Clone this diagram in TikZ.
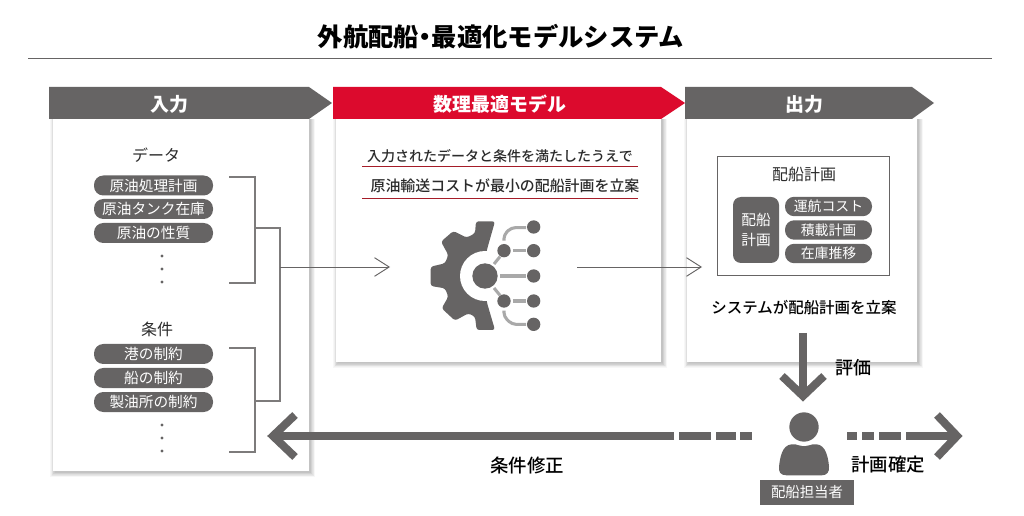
\documentclass[tikz,border=0pt]{standalone}
\usepackage{fontspec}
\setmainfont{Noto Sans CJK JP}
\newfontfamily\med{Noto Sans CJK JP Medium}
\usetikzlibrary{arrows.meta}
\definecolor{gr}{HTML}{666464}
\definecolor{lg}{HTML}{A9A9A9}
\definecolor{rd}{HTML}{DC0A2D}
\definecolor{drd}{HTML}{A51C28}
\definecolor{tx}{HTML}{2B2B2B}
\newcommand\fsz[1]{\fontsize{#1}{#1}\selectfont}
\newcommand\shadowrect[4]{%
  \foreach \i in {7,6,5,4,3,2,1,0}{%
    \fill[black,opacity=.03] (#1-\i*.6+1.5,#2) rectangle (#3+\i*.6+1.5,#4+\i*.6+1.5);}%
  \fill[white] (#1,#2) rectangle (#3,#4);}
\tikzset{
  x=.75pt,y=-.75pt,
  banner/.style={fill=#1,draw=none},
  headtxt/.style={text=white,font=\bfseries\fsz{14.2},inner sep=0pt},
  pill/.style={fill=gr,text=white,rounded corners=7pt,minimum width=89.25pt,minimum height=15pt,inner sep=0pt,font=\fsz{11}},
  spill/.style={fill=gr,text=white,rounded corners=7pt,minimum width=65.25pt,minimum height=14.6pt,inner sep=0pt,font=\fsz{10.4}},
  lbl/.style={text=tx,inner sep=0pt,font=\fsz{#1}},
  bracket/.style={draw=gr!85!white,line width=.85pt},
  thin arrow/.style={draw=gr,line width=.7pt,-{Straight Barb[length=11pt,width=14pt,line width=.7pt]}},
  heavy/.style={draw=gr,line width=6pt,miter limit=10},
  dotnode/.style={circle,fill=gr,minimum size=2.6pt,inner sep=0pt},
  netnode/.style={circle,fill=gr,inner sep=0pt,minimum size=10pt},
  netline/.style={draw=lg,line width=2.3pt,rounded corners=3pt},
}
\begin{document}
\begin{tikzpicture}
\useasboundingbox (0,0) rectangle (1024,516);
\fill[white] (0,0) rectangle (1024,516);
% title
\node[inner sep=0pt,font=\bfseries\fsz{19},text=black] (title) at (501,37) {外航配船\kern-.25em・\kern-.25em最適化モデルシステム};
\coordinate (rl) at (28,58); \coordinate (rr) at (992,58);
\draw[gr,line width=.7pt] (rl) -- (rr);
% panels
\shadowrect{53}{119}{309}{471}
\shadowrect{336}{119}{661}{362}
\shadowrect{687}{119}{917}{362}
% banners
\fill[banner=gr] (49,87) -- (309,87) -- (332,103) -- (309,119) -- (49,119) -- cycle;
\fill[banner=rd] (333,87) -- (661,87) -- (685,103) -- (661,119) -- (333,119) -- cycle;
\fill[banner=gr] (685,87) -- (912,87) -- (934,103) -- (912,119) -- (685,119) -- cycle;
\node[headtxt] (h1) at (169,104) {入力};
\node[headtxt] (h2) at (500,104) {数理最適モデル};
\node[headtxt] (h3) at (804,104) {出力};
% left panel
\node[lbl=12] (data) at (156,155) {データ};
\node[pill] (p1) at (153.5,185.5) {原油処理計画};
\node[pill] (p2) at (153.5,209) {原油タンク在庫};
\node[pill] (p3) at (153.5,233) {原油の性質};
\node[dotnode] (d1) at (162,256) {};
\node[dotnode] (d2) at (162,269) {};
\node[dotnode] (d3) at (162,282) {};
\node[lbl=12] (cond) at (157,329) {条件};
\node[pill] (q1) at (153.5,354) {港の制約};
\node[pill] (q2) at (153.5,378) {船の制約};
\node[pill] (q3) at (153.5,402) {製油所の制約};
\node[dotnode] (e1) at (162,425) {};
\node[dotnode] (e2) at (162,438) {};
\node[dotnode] (e3) at (162,451) {};
% brackets
\coordinate (b1a) at (229,177); \coordinate (b1b) at (229,283); \coordinate (b1m) at (255,228);
\coordinate (b2a) at (229,348); \coordinate (b2b) at (229,452); \coordinate (b2m) at (255,401);
\coordinate (jt) at (280,228); \coordinate (jb) at (280,401);
\draw[bracket] (b1a) -| (b1b -| b1m) -- (b1b);
\draw[bracket] (b2a) -| (b2b -| b2m) -- (b2b);
\draw[bracket] (b1m) -- (jt) -- (jb) -- (b2m);
\coordinate (a1s) at (280,267); \coordinate (a1e) at (390,267);
\draw[thin arrow] (a1s) -- (a1e);
% middle panel
\node[inner sep=0pt,text=tx,font=\med\fsz{10.5}] (m1) at (500,156) {入力されたデータと条件を満たしたうえで};
\node[inner sep=0pt,text=tx,font=\med\fsz{11.2}] (m2) at (505,186) {原油輸送コストが最小の配船計画を立案};
\coordinate (ml1) at (362,166); \coordinate (mr1) at (638,166);
\coordinate (ml2) at (362,198); \coordinate (mr2) at (638,198);
\draw[drd,line width=.65pt] (ml1) -- (mr1);
\draw[drd,line width=.65pt] (ml2) -- (mr2);
% gear
\begin{scope}[shift={(340,200)},x=.25pt,y=-.25pt]
\fill[gr,rounded corners=2pt] (465,64) -- (408,64) -- (405,100) -- (380,113) -- (340,93) -- (303,125) -- (325,165) -- (315,190) -- (272,200) -- (272,258) -- (315,265) -- (325,290) -- (305,325) -- (345,362) -- (385,340) -- (405,350) -- (410,390) -- (465,390) -- (440,305) -- (440,152) -- cycle;
\fill[white] (435,228) circle[radius=18.75pt];
\node[circle,fill=gr,inner sep=0pt,minimum size=19pt] (nc) at (435,228) {};
\node[netnode] (n1) at (492,152) {};
\node[netnode] (n2) at (492,303) {};
\node[netnode] (s1) at (581,81) {};
\node[netnode] (s2) at (581,152) {};
\node[netnode] (s3) at (581,228) {};
\node[netnode] (s4) at (581,303) {};
\node[netnode] (s5) at (581,373) {};
\draw[netline] (462,192) -- (480,170);
\draw[netline] (462,264) -- (480,286);
\draw[netline] (520,152) -- (558,152);
\draw[netline] (480,228) -- (558,228);
\draw[netline] (520,303) -- (558,303);
\draw[netline] (492,122) -- (492,104) -- (514,83) -- (558,83);
\draw[netline] (492,332) -- (492,350) -- (516,373) -- (558,373);
\end{scope}
\coordinate (a2s) at (577,267); \coordinate (a2e) at (702,267);
\draw[thin arrow] (a2s) -- (a2e);
% right panel
\node[draw=gr,line width=.65pt,minimum width=129pt,minimum height=89.25pt,inner sep=0pt] (plan) at (803,215.5) {};
\node[lbl=12] (pt) at (804,174) {配船計画};
\node[fill=gr,text=white,rounded corners=6pt,minimum width=34.5pt,minimum height=49.5pt,inner sep=0pt,font=\fsz{11},align=center] (pb) at (756,230) {配船\\[4pt]計画};
\node[spill] (r1) at (828.5,206.5) {運航コスト};
\node[spill] (r2) at (828.5,230) {積載計画};
\node[spill] (r3) at (828.5,253.5) {在庫推移};
\node[inner sep=0pt,text=black,font=\med\fsz{11.6}] (sys) at (804,308) {システムが配船計画を立案};
% person
\begin{scope}[shift={(640,330)},x=.25pt,y=-.25pt]
\fill[gr] (440,436) .. controls (420,436) and (416,425) .. (417,410) .. controls (420,385) and (425,345) .. (455,343) -- (530,343) .. controls (558,345) and (565,385) .. (567,410) .. controls (568,425) and (562,436) .. (545,436) -- cycle;
\fill[white] (492,292) circle[radius=14pt];
\end{scope}
\node[circle,fill=gr,inner sep=0pt,minimum size=22pt] (head) at (804,427) {};
\node[fill=gr,text=white,minimum width=70.5pt,minimum height=18.75pt,inner sep=0pt,font=\fsz{10.8}] (role) at (807,492.5) {配船担当者};
% heavy arrows
\coordinate (ds) at (803,333); \coordinate (dt) at (803,396);
\draw[heavy] (ds) -- (dt);
\draw[heavy] ([shift={(-21,-20)}]dt) -- (dt) -- ([shift={(21,-20)}]dt);
\coordinate (lt) at (273,436); \coordinate (ls) at (674,436);
\draw[heavy] (ls) -- (lt);
\draw[heavy] ([shift={(22,-21)}]lt) -- (lt) -- ([shift={(22,21)}]lt);
\draw[heavy] (679,436) -- (711,436);
\draw[heavy] (716,436) -- (736,436);
\draw[heavy] (740,436) -- (752,436);
\coordinate (rt) at (957,436); \coordinate (rs) at (906,436);
\draw[heavy] (rs) -- (rt);
\draw[heavy] ([shift={(-20,-21)}]rt) -- (rt) -- ([shift={(-20,21)}]rt);
\draw[heavy] (847,436) -- (857,436);
\draw[heavy] (862,436) -- (874,436);
\draw[heavy] (879,436) -- (901,436);
% labels
\node[inner sep=0pt,text=black,font=\med\fsz{13.5}] (ev) at (853,368) {評価};
\node[inner sep=0pt,text=black,font=\med\fsz{13.8}] (cf) at (888,465) {計画確定};
\node[inner sep=0pt,text=black,font=\med\fsz{13.8}] (fx) at (527,465) {条件修正};
\end{tikzpicture}
\end{document}
